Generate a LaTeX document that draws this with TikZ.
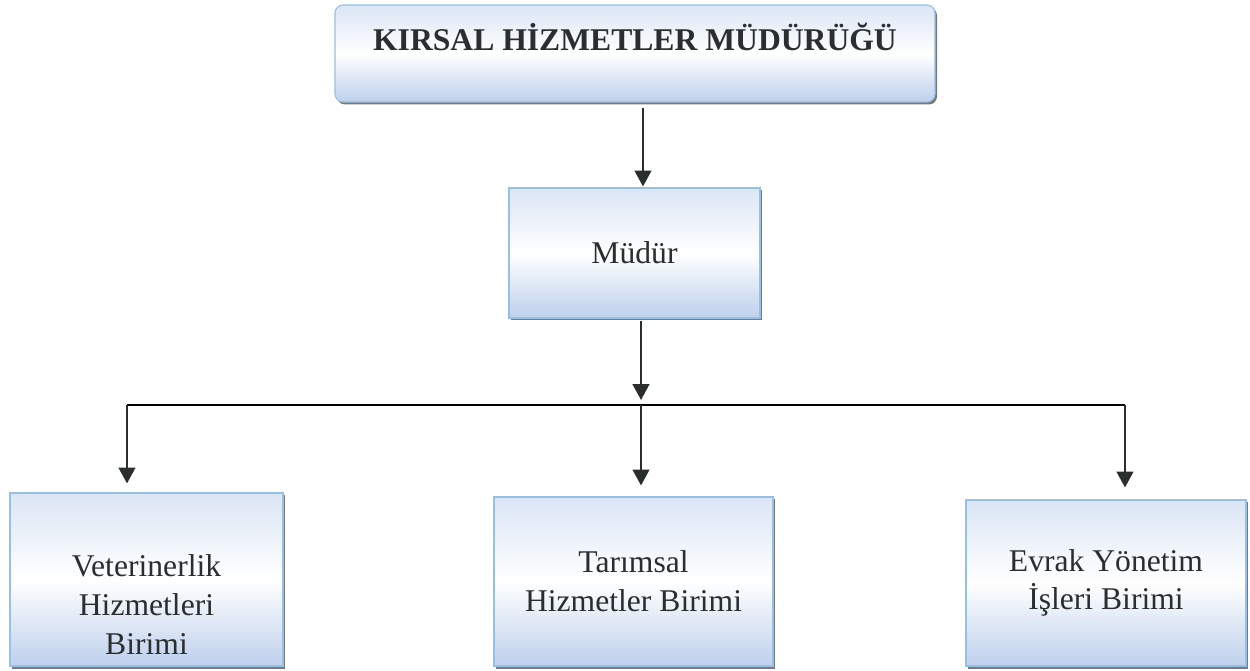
\documentclass[tikz,border=0pt]{standalone}
\usepackage{fontspec}
\setmainfont{Liberation Serif}
\usetikzlibrary{arrows.meta,shadows}
\definecolor{boxblue}{RGB}{190,208,236}
\definecolor{boxedge}{RGB}{150,192,228}
\definecolor{inkgray}{RGB}{42,46,46}
\begin{document}
\begin{tikzpicture}[scale=0.2]
        \tikzstyle{every node}+=[inner sep=0pt, text=inkgray, font=\fontsize{18}{22}\selectfont]
        \tikzstyle{unit}=[draw=boxedge, line width=0.6pt, top color=boxblue!55, bottom color=boxblue, middle color=white, align=center, drop shadow={shadow xshift=0.04cm, shadow yshift=-0.05cm, fill=black!75, opacity=0.7}]
        \tikzstyle{arr}=[draw=inkgray, line width=1.1pt, -{Triangle[width=9.5pt,length=9pt]}]
        \useasboundingbox (0,0) rectangle (125,-67.1);
        \node [unit, rounded corners=0.16cm, minimum width=12cm, minimum height=1.94cm, label={[font=\bfseries\fontsize{18}{22}\selectfont, yshift=0.34cm]center:KIRSAL HİZMETLER MÜDÜRÜĞÜ}] (kh) at (63.5,-5.35) {};
        \node [unit, minimum width=5.02cm, minimum height=2.6cm] (mudur) at (63.45,-25.3) {Müdür};
        \node [unit, minimum width=5.46cm, minimum height=3.46cm, label={[align=center, yshift=-0.5cm]center:Veterinerlik\\Hizmetleri\\Birimi}] (vet) at (14.65,-57.95) {};
        \node [unit, minimum width=5.58cm, minimum height=3.38cm] (tar) at (63.35,-58.15) {Tarımsal\\Hizmetler Birimi};
        \node [unit, minimum width=5.6cm, minimum height=3.32cm] (evrak) at (110.6,-58.3) {Evrak Yönetim\\İşleri Birimi};
        \coordinate (top) at (64.3,0);
        \coordinate (bus) at (64.1,-40.5);
        \coordinate (busL) at (12.7,-40.5);
        \coordinate (busR) at (112.5,-40.5);
        \draw [arr, shorten <=0.1cm, shorten >=0.02cm] (kh.south -| top) -- (mudur.north -| top);
        \draw [arr, shorten <=0.04cm, shorten >=0.1cm] (mudur.south -| bus) -- (bus);
        \draw [black, line width=1.4pt] (busL) -- (busR);
        \draw [arr, shorten >=0.18cm] (busL) -- (busL |- vet.north);
        \draw [arr, shorten >=0.22cm] (bus) -- (bus |- tar.north);
        \draw [arr, shorten >=0.24cm] (busR) -- (busR |- evrak.north);
    \end{tikzpicture}
\end{document}
